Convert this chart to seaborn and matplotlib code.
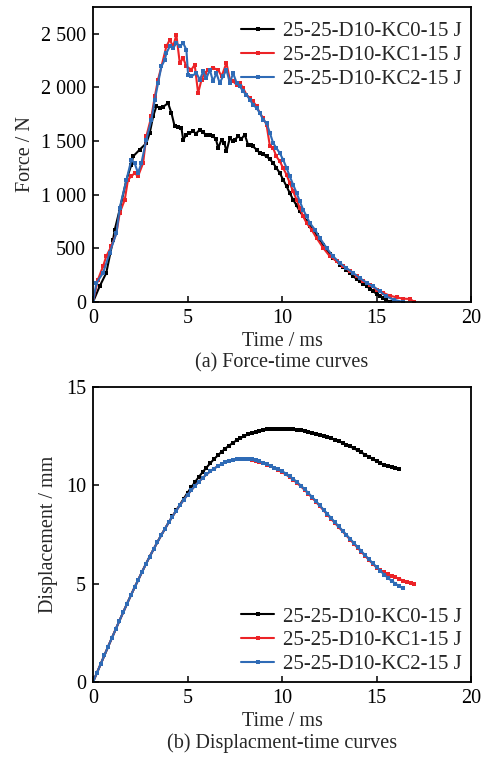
import numpy as np
import pandas as pd
import matplotlib
matplotlib.use('Agg')
from matplotlib import pyplot as plt
import seaborn as sns

# ==================== 数据 ====================
labels = ['25-25-D10-KC0-15 J', '25-25-D10-KC1-15 J', '25-25-D10-KC2-15 J']
colors = ['#000000', '#ec2327', '#2f6bb6']

# (a) 力-时间曲线
t_kc0 = [0, 0.35, 0.7, 1.06, 1.15, 1.41, 1.77, 2.03, 2.12, 2.47, 2.82, 3.0, 3.18, 3.35,
         3.55, 3.7, 3.97, 4.15, 4.32, 4.5, 4.68, 4.77, 4.94, 5.1, 5.3, 5.45, 5.65, 5.8, 6.0,
         6.2, 6.35, 6.5, 6.62, 6.8, 6.95, 7.06, 7.24, 7.4, 7.5, 7.68, 7.85, 8.03, 8.2, 8.35,
         8.47, 8.65, 8.83, 9.0, 9.18, 9.36, 9.53, 9.7, 9.88, 10.06, 10.24, 10.41, 10.59,
         10.77, 10.94, 11.12, 11.3, 11.47, 11.65, 11.83, 12.0, 12.18, 12.36, 12.53, 12.7,
         12.9, 13.06, 13.24, 13.4, 13.6, 13.77, 13.95, 14.1, 14.3, 14.5, 14.65, 14.83, 15.0,
         15.18, 15.36, 15.5, 15.7]
f_kc0 = [0, 146, 270, 580, 674, 860, 1140, 1280, 1357, 1420, 1480, 1575, 1730, 1823,
         1810, 1817, 1854, 1761, 1637, 1630, 1620, 1513, 1559, 1575, 1590, 1570, 1606, 1580,
         1560, 1555, 1544, 1520, 1435, 1513, 1480, 1404, 1528, 1500, 1513, 1544, 1520, 1560,
         1466, 1460, 1450, 1420, 1388, 1375, 1357, 1330, 1295, 1250, 1202, 1140, 1078, 1015,
         953, 900, 845, 800, 752, 712, 674, 628, 581, 535, 488, 448, 410, 378, 348, 325, 301,
         270, 239, 215, 193, 170, 146, 122, 99, 76, 53, 35, 22, 0]

t_kc1 = [0, 0.26, 0.53, 0.7, 0.97, 1.24, 1.41, 1.68, 1.85, 2.03, 2.2, 2.38, 2.65, 2.82,
         3.09, 3.27, 3.44, 3.62, 3.88, 4.06, 4.24, 4.41, 4.59, 4.77, 4.94, 5.2, 5.38, 5.56,
         5.74, 5.91, 6.1, 6.35, 6.62, 6.8, 7.06, 7.24, 7.41, 7.6, 7.77, 7.94, 8.12, 8.3, 8.47,
         8.65, 8.83, 9.0, 9.18, 9.36, 9.53, 9.7, 9.88, 10.06, 10.24, 10.41, 10.59, 10.77,
         10.94, 11.12, 11.3, 11.56, 11.83, 12.18, 12.53, 12.9, 13.24, 13.6, 13.95, 14.3,
         14.65, 15.0, 15.36, 15.7, 16.06, 16.4, 16.77, 17.0]
f_kc1 = [0, 208, 332, 425, 519, 643, 829, 953, 1140, 1171, 1202, 1171, 1295, 1544,
         1730, 1916, 2072, 2196, 2382, 2444, 2382, 2491, 2227, 2273, 2196, 2165, 2211, 1947,
         2072, 2134, 2165, 2180, 2165, 2103, 2227, 2072, 2056, 2025, 2041, 1994, 1932, 1901,
         1870, 1823, 1761, 1714, 1652, 1450, 1435, 1357, 1311, 1249, 1186, 1109, 1031, 953,
         876, 798, 736, 674, 596, 503, 426, 379, 332, 286, 239, 193, 161, 115, 84, 59, 43,
         31, 28, 0]

t_kc2 = [0, 0.18, 0.53, 0.88, 1.24, 1.41, 1.77, 2.03, 2.2, 2.38, 2.56, 2.82, 3.09, 3.27,
         3.44, 3.62, 3.8, 3.88, 4.06, 4.24, 4.41, 4.59, 4.77, 4.94, 5.03, 5.2, 5.47, 5.65,
         5.83, 6.0, 6.18, 6.35, 6.53, 6.7, 6.88, 7.06, 7.24, 7.41, 7.6, 7.77, 7.94, 8.12, 8.3,
         8.47, 8.65, 8.83, 9.0, 9.18, 9.36, 9.53, 9.7, 9.88, 10.06, 10.24, 10.41, 10.59,
         10.77, 10.94, 11.12, 11.3, 11.47, 11.74, 12.0, 12.36, 12.7, 13.06, 13.4, 13.77,
         14.1, 14.5, 14.83, 15.18, 15.5, 15.9, 16.4]
f_kc2 = [0, 177, 270, 457, 643, 876, 1140, 1326, 1295, 1202, 1295, 1513, 1699, 1885,
         2040, 2196, 2258, 2320, 2382, 2367, 2413, 2382, 2413, 2351, 2118, 2103, 2134, 2072,
         2149, 2087, 2165, 2056, 2134, 2041, 2103, 2165, 2041, 2134, 2041, 2010, 1963, 1932,
         1885, 1839, 1808, 1761, 1699, 1668, 1575, 1482, 1435, 1388, 1326, 1249, 1171, 1093,
         1016, 938, 860, 798, 736, 674, 596, 503, 426, 363, 317, 270, 224, 177, 146, 99, 53,
         22, 0]

force_ticks = [0, 500, 1000, 1500, 2000, 2500]
force_ticklabels = ['0', '500', '1 000', '1 500', '2 000', '2 500']

# (b) 位移-时间曲线 (每 0.2 ms 一个点)
d_kc0 = [0, 0.45, 0.90, 1.35, 1.80, 2.24, 2.68, 3.12, 3.55, 3.98, 4.40, 4.81, 5.21, 5.61,
         6.00, 6.38, 6.74, 7.10, 7.45, 7.78, 8.11, 8.42, 8.72, 9.02, 9.32, 9.62, 9.90, 10.17,
         10.43, 10.67, 10.90, 11.12, 11.33, 11.52, 11.70, 11.87, 12.02, 12.16, 12.29, 12.40,
         12.50, 12.59, 12.66, 12.72, 12.77, 12.81, 12.84, 12.86, 12.87, 12.87, 12.87, 12.87,
         12.86, 12.84, 12.82, 12.79, 12.76, 12.72, 12.68, 12.63, 12.58, 12.52, 12.46, 12.39,
         12.32, 12.24, 12.16, 12.07, 11.98, 11.88, 11.78, 11.67, 11.56, 11.45, 11.34, 11.23,
         11.13, 11.04, 10.97, 10.91, 10.87, 10.85]
d_kc1 = [0, 0.45, 0.90, 1.35, 1.80, 2.24, 2.68, 3.12, 3.55, 3.98, 4.40, 4.81, 5.21, 5.61,
         6.00, 6.38, 6.74, 7.10, 7.45, 7.78, 8.11, 8.41, 8.71, 8.99, 9.26, 9.52, 9.75, 9.98,
         10.18, 10.37, 10.55, 10.71, 10.85, 10.97, 11.08, 11.17, 11.24, 11.29, 11.33, 11.34,
         11.34, 11.33, 11.30, 11.26, 11.20, 11.13, 11.05, 10.96, 10.87, 10.77, 10.67, 10.55,
         10.42, 10.27, 10.11, 9.94, 9.76, 9.56, 9.36, 9.15, 8.94, 8.72, 8.51, 8.29, 8.08,
         7.87, 7.66, 7.45, 7.24, 7.03, 6.82, 6.61, 6.41, 6.20, 6.01, 5.82, 5.68, 5.58, 5.49,
         5.40, 5.32, 5.24, 5.16, 5.09, 5.02, 4.96]
d_kc2 = [0, 0.45, 0.90, 1.35, 1.80, 2.24, 2.68, 3.12, 3.55, 3.98, 4.40, 4.81, 5.21, 5.61,
         6.00, 6.38, 6.74, 7.10, 7.45, 7.78, 8.11, 8.41, 8.71, 8.99, 9.26, 9.52, 9.75, 9.98,
         10.18, 10.37, 10.55, 10.71, 10.85, 10.97, 11.08, 11.17, 11.24, 11.29, 11.33, 11.35,
         11.35, 11.34, 11.32, 11.28, 11.22, 11.15, 11.07, 10.98, 10.90, 10.82, 10.72, 10.60,
         10.47, 10.32, 10.16, 9.98, 9.80, 9.60, 9.40, 9.19, 8.98, 8.76, 8.55, 8.33, 8.12,
         7.91, 7.70, 7.49, 7.28, 7.07, 6.86, 6.65, 6.44, 6.24, 6.04, 5.85, 5.66, 5.46, 5.30,
         5.14, 5.00, 4.87, 4.76]
t_d = [round(0.2 * i, 1) for i in range(len(d_kc1))]

# ==================== 绘图 ====================
sns.set_theme(style='ticks')
plt.rcParams['font.family'] = ['Liberation Serif', 'DejaVu Serif']
plt.rcParams['mathtext.fontset'] = 'stix'

fig = plt.figure(figsize=(4.85, 7.57), dpi=100)
ax1 = fig.add_axes([0.1918, 0.6011, 0.7794, 0.3897])
ax2 = fig.add_axes([0.1918, 0.0991, 0.7794, 0.3897])

fs = 14.5
line_kw = dict(marker='s', markersize=3.2, markeredgewidth=0, linewidth=1.5,
               estimator=None, sort=False)

force_sets = [(t_kc0, f_kc0), (t_kc1, f_kc1), (t_kc2, f_kc2)]
for (tt, ff), lab, c in zip(force_sets, labels, colors):
    sns.lineplot(x=tt, y=ff, ax=ax1, color=c, label=lab, **line_kw)

disp_sets = [d_kc0, d_kc1, d_kc2]
for dd, lab, c in zip(disp_sets, labels, colors):
    sns.lineplot(x=t_d[:len(dd)], y=dd, ax=ax2, color=c, label=lab, **line_kw)

for ax in (ax1, ax2):
    ax.set_xlim(0, 20)
    ax.set_xticks([0, 5, 10, 15, 20])
    ax.tick_params(direction='in', length=4, width=1.1, labelsize=fs, pad=5,
                   top=False, right=False, colors='black')
    for s in ax.spines.values():
        s.set_linewidth(1.3)
        s.set_color('black')
    ax.set_xlabel('Time / ms', fontsize=fs, labelpad=3)

ax1.set_ylim(0, 2750)
ax1.set_yticks(force_ticks)
ax1.set_yticklabels(force_ticklabels)
ax1.set_ylabel('Force / N', fontsize=fs, labelpad=4)

ax2.set_ylim(0, 15)
ax2.set_yticks([0, 5, 10, 15])
ax2.set_ylabel('Displacement / mm', fontsize=fs, labelpad=6)

leg_kw = dict(frameon=False, fontsize=15, handlelength=1.6, handletextpad=0.4,
              labelspacing=0.2, borderaxespad=0.0)
ax1.legend(loc='upper right', bbox_to_anchor=(0.997, 0.978), **leg_kw)
ax2.legend(loc='lower right', bbox_to_anchor=(0.997, -0.002), **leg_kw)

fig.text(0.5815, 1 - 363 / 757, '(a) Force-time curves', ha='center', va='center', fontsize=fs)
fig.text(0.5815, 1 - 743 / 757, '(b) Displacment-time curves', ha='center', va='center', fontsize=fs)

plt.savefig('out.png', dpi=100)
